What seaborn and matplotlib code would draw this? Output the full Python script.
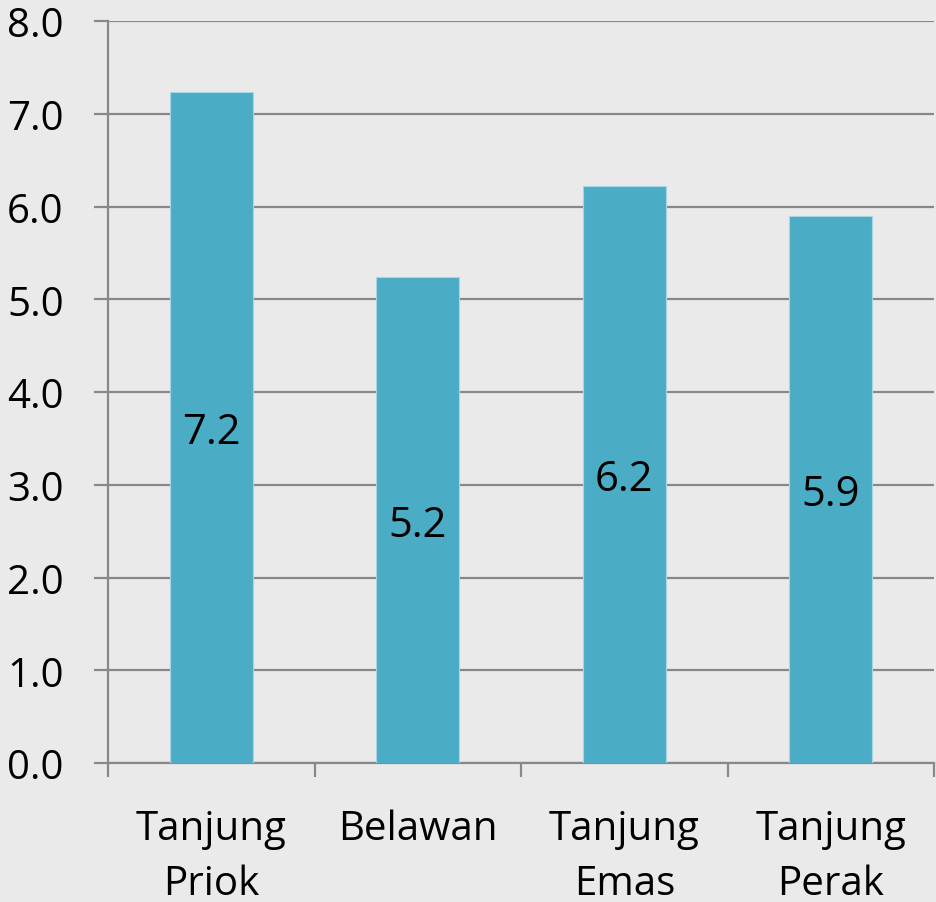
import matplotlib
matplotlib.use("Agg")
import matplotlib.pyplot as plt
import seaborn as sns
import pandas as pd
import numpy as np
from matplotlib.ticker import FixedLocator, FormatStrFormatter

ports = ["Tanjung\nPriok", "Belawan", "Tanjung\nEmas", "Tanjung\nPerak"]
values = [7.24, 5.24, 6.22, 5.90]
yticks = [0, 1, 2, 3, 4, 5, 6, 7, 8]

sns.set_theme(style="white")
plt.rcParams['font.family'] = ['Open Sans', 'DejaVu Sans']

bg = "#EAEAEA"
grid_c = "#888888"
bar_c = "#4BACC6"
fs = 29

df = pd.DataFrame({"port": ports, "value": values})

fig = plt.figure(figsize=(9.36, 9.03), dpi=100, facecolor=bg)
ax = fig.add_axes([0.1154, 0.1539, 0.8825, 0.8217])
ax.set_facecolor(bg)

sns.barplot(data=df, x="port", y="value", color=bar_c, width=0.4, ax=ax,
            saturation=1, edgecolor="#A9D4E2", linewidth=0.8, zorder=3)

ax.set_ylim(0, 8)
ax.set_xlim(-0.5, len(ports) - 0.5)
ax.yaxis.set_major_locator(FixedLocator(yticks))
ax.yaxis.set_major_formatter(FormatStrFormatter("%.1f"))
ax.grid(axis="y", color=grid_c, linewidth=1.6, zorder=0)
ax.set_axisbelow(True)

for s in ["top", "right"]:
    ax.spines[s].set_visible(False)
for s in ["left", "bottom"]:
    ax.spines[s].set_color(grid_c)
    ax.spines[s].set_linewidth(1.6)

ax.set_xlabel("")
ax.set_ylabel("")

ax.tick_params(axis="y", which="major", length=10, width=1.6, color=grid_c,
               labelsize=fs, labelcolor="black", pad=22, left=True)
ax.tick_params(axis="x", which="major", length=0, labelsize=fs,
               labelcolor="black", pad=33, bottom=True)
ax.xaxis.set_minor_locator(FixedLocator(np.arange(-0.5, len(ports), 1.0)))
ax.tick_params(axis="x", which="minor", length=10, width=1.6, color=grid_c, bottom=True)
for lbl in ax.get_xticklabels():
    lbl.set_linespacing(1.45)
    lbl.set_verticalalignment("top")

for i, v in enumerate(values):
    ax.text(i, v / 2 - 0.05, f"{v:.1f}", ha="center", va="center", fontsize=30,
            color="black", zorder=4)

fig.savefig("out.png", dpi=100, facecolor=bg)
